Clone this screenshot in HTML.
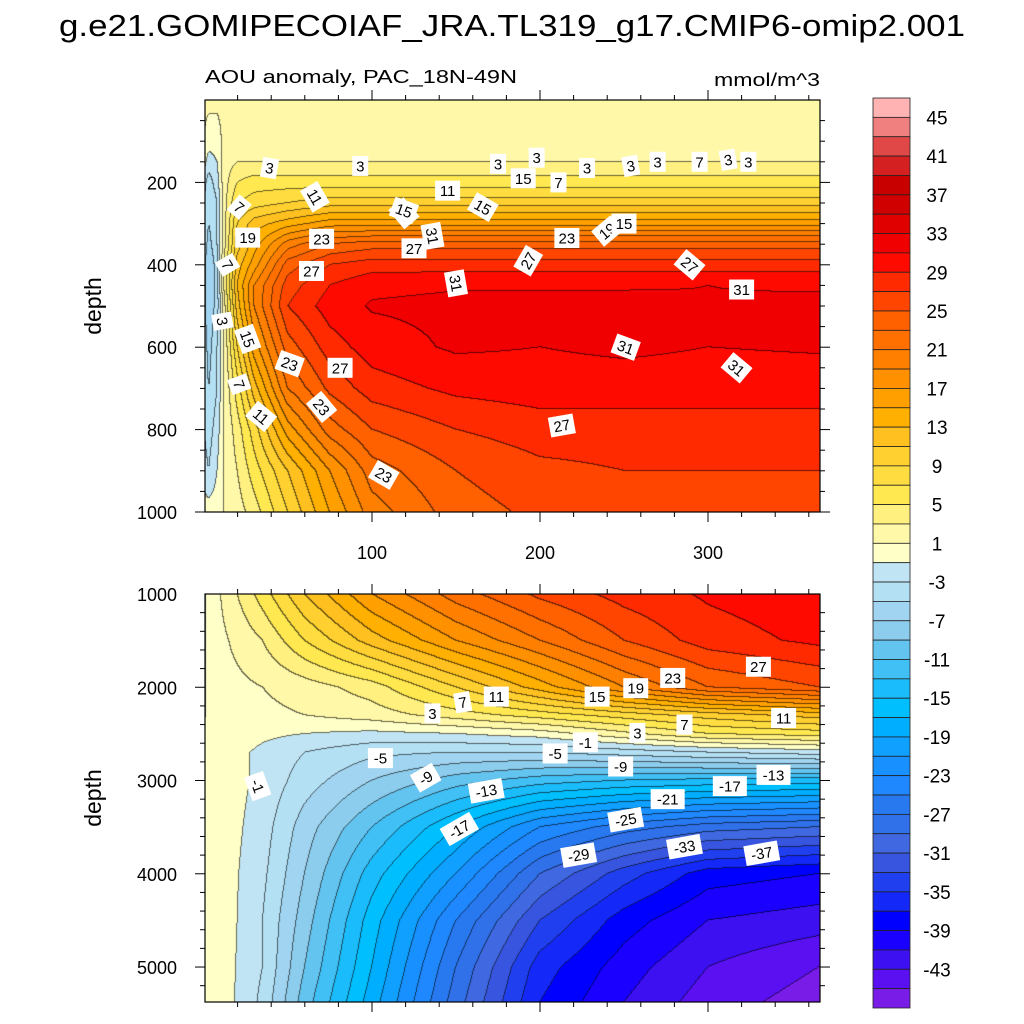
<!DOCTYPE html>
<html><head><meta charset="utf-8"><style>
body{margin:0;background:#fff;}
#wrap{position:relative;width:1024px;height:1024px;overflow:hidden;background:#fff;font-family:"Liberation Sans",sans-serif;}
canvas{position:absolute;}
svg{position:absolute;left:0;top:0;}
.lbl{font-size:15px;fill:#000;}
</style></head><body>
<div id="wrap">
<canvas id="cTop" width="615" height="412" style="left:205px;top:100px"></canvas>
<canvas id="cBot" width="615" height="408" style="left:205px;top:594px"></canvas>
<svg id="ov" width="1024" height="1024">
<text x="512" y="36" text-anchor="middle" font-size="31" textLength="906" lengthAdjust="spacingAndGlyphs">g.e21.GOMIPECOIAF_JRA.TL319_g17.CMIP6-omip2.001</text>
<text x="205" y="83" font-size="18" textLength="312" lengthAdjust="spacingAndGlyphs">AOU anomaly, PAC_18N-49N</text>
<text x="820" y="86" font-size="18" text-anchor="end" textLength="106" lengthAdjust="spacingAndGlyphs">mmol/m^3</text>
<text transform="translate(101,306) rotate(-90)" text-anchor="middle" font-size="23">depth</text>
<text transform="translate(101,798) rotate(-90)" text-anchor="middle" font-size="23">depth</text>
<g id="axes"></g>
<g id="labels"></g>
<g id="cbar"></g>
</svg>
</div>
<script>
// ---- data ----
const levels = [];
for (let v = -45; v <= 45; v += 2) levels.push(v);
const colors = ["#7A1CE8","#5A10F0","#3C10F0","#1A00FF","#0000FF","#1428F8","#2040F0","#3855E0","#4068E0","#3070E8","#2878F0","#2088FF","#1890FF","#10A0FF","#00AEFF","#00BFFF","#1ABCFC","#40C0F4","#64C4F0","#8CCCEC","#A0D4F0","#B4E0F4","#C0E4F4","#FFFFC8","#FFF8A8","#FFF080","#FFE850","#FFDD40","#FFD030","#FFC020","#FFB000","#FFA000","#FF9000","#FF8000","#FF7000","#FF6000","#FF4500","#FF2A00","#FF0A00","#F00000","#E00000","#D00000","#C80000","#D42020","#E04848","#F08080","#FFB3B3"];
const cbLabels = [45,41,37,33,29,25,21,17,13,9,5,1,-3,-7,-11,-15,-19,-23,-27,-31,-35,-39,-43];

const topDays = [0,3,8,12,20,30,50,75,100,150,200,250,300,366];
const topDepths = [0,100,150,200,250,300,350,400,450,500,600,700,800,900,1000];
const topVals = [
 [1.5,1.5,1.5,1.5,1.5,1.5,1.5,1.5,1.5,1.5,1.5,1.5,1.5,1.5],
 [1,0,0,1.5,2,2,2,2,2,2,2,2,2,2],
 [0,-2,-1,2,3,3,3,3,3,3,3,3,3,3],
 [-2,-4,-2,2,5,6,6,6,6,6,6,6,6,6],
 [-3,-5,-3,2,7,8,9,10,10,10,10,10,10,10],
 [-3,-5,-3,2,9,12,14,16,16,16,16,16,16,16],
 [-3,-6,-3,2,10,14,20,23,24,24,24,24,24,24],
 [-4,-7,-4,3,12,16,24,27,28,28,28,28,28,28],
 [-4,-7,-4,3,13,19,26,29,30.5,30.8,31,30.8,31,30.8],
 [-4,-7,-4,2,12,19,27,30,31.2,31.5,31,31.6,31.1,31.4],
 [-3,-6,-3,1,9,16,24,28,30,31.3,31,31.4,31,31.2],
 [-3,-5,-3,1,6,12,21,25.5,28,29.5,30,30,30,30],
 [-3,-4,-2,1,4,8,16,22,25,27,28,28,28,28],
 [-2,-3,-1,1,3,6,11,17,22,25,26.5,27,27,27],
 [0,0,0,1,2,4,9,15,20,24,25.5,26,26,26]
];
const botDays = [0,3,10,20,35,60,100,150,200,250,300,366];
const botDepths = [1000,1500,2000,2300,2500,2700,3000,3500,4000,4500,5000,5375];
const botVals = [
 [-1.5,0,1,3,6,11,17,22,25.5,27.8,29.3,30.4],
 [-1.5,0,0.5,1.5,3,7,12,17,21,25,28,29.5],
 [-1.5,0,0.3,0.5,1,2,4,9,14,19,23,25],
 [-1.5,0,0,0.2,0.5,1,2,4,6,8,10,12],
 [-0.5,0,0,0,-0.5,-1,-1.5,-1,0,2.5,5,6],
 [-0.5,0,0,-0.5,-1.5,-3,-4.5,-5,-5,-4,-3,-2],
 [-0.5,0,0,-0.5,-1.5,-4,-7,-10,-12,-13,-13.5,-14],
 [-0.5,0,0,-0.7,-2,-6,-11,-17,-23,-26,-28,-29],
 [-0.5,0,0,-0.9,-2.5,-7,-14,-21,-29,-34,-38,-39],
 [-0.5,0,0,-1,-3,-8,-16,-25,-33,-38,-41,-42],
 [-0.5,0,0,-1.1,-3,-9,-17,-27,-36,-40,-43,-45],
 [-0.5,0,0,-1.2,-3.5,-10,-18,-28,-37,-41,-44,-46]
];

// ---- scales ----
function xScale(t){ return 204 + t*1.68; }
function xInv(px){ return (px-204)/1.68; }
function yTop(z){ return 100 + z*0.412; }
function yTopInv(py){ return (py-100)/0.412; }
function yBot(z){ return 594 + (z-1000)*(408/4375); }
function yBotInv(py){ return 1000 + (py-594)*(4375/408); }

function seg(arr, v){
  if (v <= arr[0]) return [0,0];
  for (let i=0;i<arr.length-1;i++) if (v<=arr[i+1]) return [i,(v-arr[i])/(arr[i+1]-arr[i])];
  return [arr.length-2,1];
}
function interp(xs, ys, vals, x, y){
  const [i,fx]=seg(xs,x), [j,fy]=seg(ys,y);
  const a=vals[j][i], b=vals[j][i+1], c=vals[j+1][i], d=vals[j+1][i+1];
  return (a*(1-fx)+b*fx)*(1-fy)+(c*(1-fx)+d*fx)*fy;
}
function levIdx(v){ let k=0; while(k<levels.length && v>=levels[k]) k++; return k; }
function hex(h){ return [parseInt(h.substr(1,2),16),parseInt(h.substr(3,2),16),parseInt(h.substr(5,2),16)]; }
const rgb = colors.map(hex);

function render(id, left, top, xs, ys, vals, yInv){
  const cv=document.getElementById(id), ctx=cv.getContext('2d');
  const W=cv.width, H=cv.height, img=ctx.createImageData(W,H);
  const idx=new Int16Array(W*H);
  for(let py=0;py<H;py++){ const z=yInv(top+py+0.5);
    for(let px=0;px<W;px++){ const t=xInv(left+px+0.5);
      idx[py*W+px]=levIdx(interp(xs,ys,vals,t,z)); } }
  for(let py=0;py<H;py++) for(let px=0;px<W;px++){
    const k=py*W+px, c=rgb[idx[k]];
    let edge = (px<W-1 && idx[k]!==idx[k+1]) || (py<H-1 && idx[k]!==idx[k+W]);
    const o=k*4;
    if(edge){ img.data[o]=c[0]*0.4; img.data[o+1]=c[1]*0.4; img.data[o+2]=c[2]*0.4; }
    else { img.data[o]=c[0]; img.data[o+1]=c[1]; img.data[o+2]=c[2]; }
    img.data[o+3]=255;
  }
  ctx.putImageData(img,0,0);
}
render('cTop',205,100,topDays,topDepths,topVals,yTopInv);
render('cBot',205,594,botDays,botDepths,botVals,yBotInv);

// ---- axes ----
const NS='http://www.w3.org/2000/svg';
function mk(tag, attrs, parent){ const e=document.createElementNS(NS,tag); for(const k in attrs) e.setAttribute(k,attrs[k]); parent.appendChild(e); return e; }
const axes=document.getElementById('axes');
function frame(y0,y1,name){
  const r=mk('rect',{x:205,y:y0,width:615,height:y1-y0,fill:'none',stroke:'#000','stroke-width':1.2},axes);
  
  
  for(let t=20;t<=360;t+=20){
    const x=xScale(t), L=(t%100===0)?10:5;
    const a=mk('line',{x1:x,x2:x,y1:y0,y2:y0-L,stroke:'#000'},axes);
    
    
    const b=mk('line',{x1:x,x2:x,y1:y1,y2:y1+L,stroke:'#000'},axes);
    
    
  }
}
frame(100,512,'upper-plot-frame');
frame(594,1002,'lower-plot-frame');
[100,200,300].forEach(t=>{
  const e=mk('text',{x:xScale(t),y:559,'text-anchor':'middle','font-size':18},axes);
  e.textContent=t;
  
  
});
const topYTicks=[200,400,600,800,1000];
for(let z=50;z<=1000;z+=50){
  const y=yTop(z), L=(z%200===0)?10:5;
  const a=mk('line',{x1:205,x2:205-L,y1:y,y2:y,stroke:'#000'},axes);
  
  
  const b=mk('line',{x1:820,x2:820+L,y1:y,y2:y,stroke:'#000'},axes);
  
  
}
topYTicks.forEach(z=>{
  const e=mk('text',{x:177,y:yTop(z)+7,'text-anchor':'end','font-size':18},axes);
  e.textContent=z;
  
  
});
const botYTicks=[1000,2000,3000,4000,5000];
for(let z=1200;z<=5300;z+=200){
  const y=yBot(z), L=(z%1000===0)?10:5;
  const a=mk('line',{x1:205,x2:205-L,y1:y,y2:y,stroke:'#000'},axes);
  
  
  const b=mk('line',{x1:820,x2:820+L,y1:y,y2:y,stroke:'#000'},axes);
  
  
}
botYTicks.forEach(z=>{
  const e=mk('text',{x:177,y:yBot(z)+7,'text-anchor':'end','font-size':18},axes);
  e.textContent=z;
  
  
});

// ---- contour labels ----
const topLabelDays=[11,14,21,39,66,93,119,166,198,211,228,254,270,295,312,324,26,64,70,125,150,190,193,216,240,289,320,26,51,81,119,145,136,175,213,250,251,317,21,34,70,107];
const topLabelDepths=[537,400,260,165,235,160,275,260,140,200,165,160,150,150,145,150,334,415,337,360,445,190,390,335,318,400,460,580,640,650,268,220,330,155,790,300,600,650,690,768,745,910];
const topLabelText=["3","7","7","3","11","3","19","15","3","7","3","3","3","7","3","3","19","27","23","27","31","15","27","23","19","27","31","15","23","27","15","11","31","3","27","15","31","31","7","11","23","23"];
const topAngles=[80,60,40,10,60,0,50,30,0,0,0,-10,0,0,-10,0,0,0,0,0,80,0,-60,0,-40,40,0,70,20,0,20,0,80,0,-10,0,20,40,70,40,50,30];
const labels=document.getElementById('labels');
function addLabel(x,y,txt,ang){
  const g=mk('g',{transform:`translate(${x},${y}) rotate(${ang})`},labels);
  
  
  const w=txt.length*9+7;
  mk('rect',{x:-w/2,y:-10,width:w,height:20,fill:'#fff'},g);
  const t=mk('text',{x:0,y:5.5,'text-anchor':'middle',class:'lbl'},g);
  t.textContent=txt;
}
for(let i=0;i<topLabelDays.length;i++) addLabel(xScale(topLabelDays[i]),yTop(topLabelDepths[i]),topLabelText[i],topAngles[i]);

const botLabelDays=[136,154,174,234,257,279,330,345,286,258,227,209,105,248,132,339,313,168,276,251,152,223,286,332,32];
const botLabelDepths=[2280,2160,2100,2100,2010,1900,1780,2330,2400,2490,2590,2710,2760,2850,2970,2940,3060,3110,3200,3420,3520,3800,3710,3780,3060];
const botLabelText=["3","7","11","15","19","23","27","11","7","3","-1","-5","-5","-9","-9","-13","-17","-13","-21","-25","-17","-29","-33","-37","-1"];
const botAngles=[0,-10,0,0,0,0,0,0,0,0,0,0,0,0,-30,0,0,-10,0,-10,-30,-10,-10,-10,70];
for(let i=0;i<botLabelDays.length;i++) addLabel(xScale(botLabelDays[i]),yBot(botLabelDepths[i]),botLabelText[i],botAngles[i]);

// ---- colorbar ----
const cb=document.getElementById('cbar');
const cbTop=98, cbBot=1008, nBox=colors.length, bh=(cbBot-cbTop)/nBox;
for(let i=0;i<nBox;i++){
  const r=mk('rect',{x:873,y:cbTop+i*bh,width:37,height:bh,fill:colors[nBox-1-i],stroke:'#222','stroke-width':0.8},cb);
  
  
}
cbLabels.forEach(v=>{
  const k=levels.indexOf(v);
  const y=cbBot-(k+1)*bh;
  const e=mk('text',{x:937,y:y+7,'text-anchor':'middle','font-size':19},cb);
  e.textContent=v;
  
  
});
</script>
</body></html>
